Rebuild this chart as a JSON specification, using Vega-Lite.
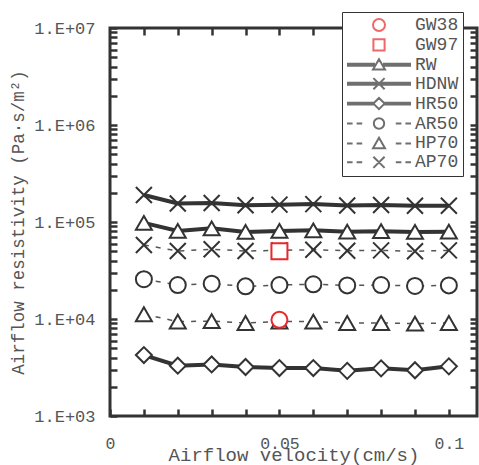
{
  "$schema": "https://vega.github.io/schema/vega-lite/v6.json",
  "autosize": "none",
  "width": 367,
  "height": 388,
  "padding": {"left": 110, "top": 28, "right": 2, "bottom": 49},
  "background": "white",
  "config": {
    "view": {"stroke": "#333333", "strokeWidth": 3},
    "font": "Liberation Mono"
  },
  "data": {
    "values": [
      {"series": "RW", "x": 0.01, "y": 98000}, {"series": "RW", "x": 0.02, "y": 81000}, {"series": "RW", "x": 0.03, "y": 86000}, {"series": "RW", "x": 0.04, "y": 79000}, {"series": "RW", "x": 0.05, "y": 81000}, {"series": "RW", "x": 0.06, "y": 82000}, {"series": "RW", "x": 0.07, "y": 79500}, {"series": "RW", "x": 0.08, "y": 80500}, {"series": "RW", "x": 0.09, "y": 79000}, {"series": "RW", "x": 0.1, "y": 79500},
      {"series": "HDNW", "x": 0.01, "y": 190000}, {"series": "HDNW", "x": 0.02, "y": 155000}, {"series": "HDNW", "x": 0.03, "y": 157000}, {"series": "HDNW", "x": 0.04, "y": 149000}, {"series": "HDNW", "x": 0.05, "y": 151000}, {"series": "HDNW", "x": 0.06, "y": 153000}, {"series": "HDNW", "x": 0.07, "y": 148000}, {"series": "HDNW", "x": 0.08, "y": 150000}, {"series": "HDNW", "x": 0.09, "y": 147000}, {"series": "HDNW", "x": 0.1, "y": 147000},
      {"series": "HR50", "x": 0.01, "y": 4250}, {"series": "HR50", "x": 0.02, "y": 3300}, {"series": "HR50", "x": 0.03, "y": 3400}, {"series": "HR50", "x": 0.04, "y": 3200}, {"series": "HR50", "x": 0.05, "y": 3120}, {"series": "HR50", "x": 0.06, "y": 3120}, {"series": "HR50", "x": 0.07, "y": 2920}, {"series": "HR50", "x": 0.08, "y": 3100}, {"series": "HR50", "x": 0.09, "y": 2960}, {"series": "HR50", "x": 0.1, "y": 3250},
      {"series": "AR50", "x": 0.01, "y": 25700}, {"series": "AR50", "x": 0.02, "y": 22400}, {"series": "AR50", "x": 0.03, "y": 23100}, {"series": "AR50", "x": 0.04, "y": 21700}, {"series": "AR50", "x": 0.05, "y": 22400}, {"series": "AR50", "x": 0.06, "y": 22800}, {"series": "AR50", "x": 0.07, "y": 22200}, {"series": "AR50", "x": 0.08, "y": 22400}, {"series": "AR50", "x": 0.09, "y": 21900}, {"series": "AR50", "x": 0.1, "y": 22200},
      {"series": "HP70", "x": 0.01, "y": 11200}, {"series": "HP70", "x": 0.02, "y": 9400}, {"series": "HP70", "x": 0.03, "y": 9500}, {"series": "HP70", "x": 0.04, "y": 9100}, {"series": "HP70", "x": 0.05, "y": 9400}, {"series": "HP70", "x": 0.06, "y": 9400}, {"series": "HP70", "x": 0.07, "y": 9100}, {"series": "HP70", "x": 0.08, "y": 9100}, {"series": "HP70", "x": 0.09, "y": 8950}, {"series": "HP70", "x": 0.1, "y": 9100},
      {"series": "AP70", "x": 0.01, "y": 58000}, {"series": "AP70", "x": 0.02, "y": 50200}, {"series": "AP70", "x": 0.03, "y": 52300}, {"series": "AP70", "x": 0.04, "y": 50200}, {"series": "AP70", "x": 0.05, "y": 51000}, {"series": "AP70", "x": 0.06, "y": 51800}, {"series": "AP70", "x": 0.07, "y": 50600}, {"series": "AP70", "x": 0.08, "y": 51000}, {"series": "AP70", "x": 0.09, "y": 49900}, {"series": "AP70", "x": 0.1, "y": 51000},
      {"series": "GW38", "x": 0.05, "y": 9800},
      {"series": "GW97", "x": 0.05, "y": 50000}
    ]
  },
  "resolve": {
    "scale": {"shape": "independent", "stroke": "independent", "size": "independent"},
    "axis": {"x": "independent", "y": "independent"}
  },
  "layer": [
    {
      "transform": [{"filter": "indexof(['RW','HDNW','HR50'], datum.series) >= 0"}],
      "mark": {"type": "line", "color": "#333333", "strokeWidth": 4},
      "encoding": {
        "x": {"field": "x", "type": "quantitative",
          "scale": {"domain": [0, 0.1083], "nice": false, "zero": false},
          "axis": {
            "values": [0, 0.01, 0.02, 0.03, 0.04, 0.05, 0.06, 0.07, 0.08, 0.09, 0.1],
            "format": "~g",
            "labelExpr": "(datum.value == 0 || datum.value == 0.05 || datum.value == 0.1) ? datum.label : ''",
            "labelOverlap": false, "labelFlush": false,
            "domain": false, "grid": false, "zindex": 2,
            "ticks": true, "tickSize": -7, "tickWidth": 2.5, "tickColor": "#333333",
            "labelFont": "Liberation Mono", "labelFontSize": 16.5, "labelColor": "#555555", "labelPadding": 26,
            "title": "Airflow velocity(cm/s)", "titleFont": "Liberation Mono", "titleFontSize": 19,
            "titleFontWeight": "normal", "titleColor": "#555555", "titlePadding": -6
          }
        },
        "y": {"field": "y", "type": "quantitative",
          "scale": {"type": "log", "domain": [1000, 10000000], "nice": false},
          "axis": {
            "values": [1000, 2000, 3000, 4000, 5000, 6000, 7000, 8000, 9000, 10000, 20000, 30000, 40000, 50000, 60000, 70000, 80000, 90000, 100000, 200000, 300000, 400000, 500000, 600000, 700000, 800000, 900000, 1000000, 2000000, 3000000, 4000000, 5000000, 6000000, 7000000, 8000000, 9000000, 10000000],
            "labelExpr": "indexof([1000, 10000, 100000, 1000000, 10000000], datum.value) >= 0 ? '1.E+0' + round(log(datum.value) / LN10) : ''",
            "labelOverlap": false, "labelFlush": false,
            "domain": false, "grid": false, "zindex": 2,
            "ticks": true, "tickSize": -7, "tickWidth": 2.5, "tickColor": "#333333",
            "labelFont": "Liberation Mono", "labelFontSize": 17, "labelColor": "#555555", "labelPadding": 22,
            "title": "Airflow resistivity (Pa·s/m²)", "titleFont": "Liberation Mono", "titleFontSize": 17.5,
            "titleFontWeight": "normal", "titleColor": "#555555", "titlePadding": 6
          }
        },
        "detail": {"field": "series"}
      }
    },
    {
      "transform": [{"filter": "indexof(['AR50','HP70','AP70'], datum.series) >= 0"}],
      "mark": {"type": "line", "color": "#555555", "strokeWidth": 1.5, "strokeDash": [5, 7]},
      "encoding": {
        "x": {"field": "x", "type": "quantitative", "axis": null},
        "y": {"field": "y", "type": "quantitative", "axis": null},
        "detail": {"field": "series"}
      }
    },
    {
      "mark": {"type": "point", "filled": true, "fill": "white", "strokeWidth": 2, "opacity": 1},
      "encoding": {
        "x": {"field": "x", "type": "quantitative", "axis": null},
        "y": {"field": "y", "type": "quantitative", "axis": null},
        "shape": {"field": "series", "type": "nominal", "legend": null,
          "scale": {
            "domain": ["GW38", "GW97", "RW", "HDNW", "HR50", "AR50", "HP70", "AP70"],
            "range": ["circle", "square", "triangle-up", "M-1,-1L1,1M-1,1L1,-1", "diamond", "circle", "triangle-up", "M-1,-1L1,1M-1,1L1,-1"]
          }
        },
        "stroke": {"field": "series", "type": "nominal", "legend": null,
          "scale": {
            "domain": ["GW38", "GW97", "RW", "HDNW", "HR50", "AR50", "HP70", "AP70"],
            "range": ["#e8282c", "#e8282c", "#333333", "#333333", "#333333", "#333333", "#333333", "#333333"]
          }
        },
        "size": {"field": "series", "type": "ordinal", "legend": null,
          "scale": {
            "domain": ["GW38", "GW97", "RW", "HDNW", "HR50", "AR50", "HP70", "AP70"],
            "range": [256, 256, 130, 144, 110, 121, 130, 144]
          }
        }
      }
    },
    {
      "transform": [{"filter": "datum.x < 0"}],
      "mark": {"type": "point", "filled": true, "fill": "white", "strokeWidth": 2},
      "encoding": {
        "x": {"field": "x", "type": "quantitative",
          "axis": {
            "orient": "top",
            "values": [0.01, 0.02, 0.03, 0.04, 0.05, 0.06, 0.07, 0.08, 0.09, 0.1],
            "labels": false, "domain": false, "grid": false, "title": null, "zindex": 2,
            "ticks": true, "tickSize": -7, "tickWidth": 2.5, "tickColor": "#333333"
          }
        },
        "y": {"field": "y", "type": "quantitative",
          "axis": {
            "orient": "right",
            "values": [2000, 3000, 4000, 5000, 6000, 7000, 8000, 9000, 10000, 20000, 30000, 40000, 50000, 60000, 70000, 80000, 90000, 100000, 200000, 300000, 400000, 500000, 600000, 700000, 800000, 900000, 1000000, 2000000, 3000000, 4000000, 5000000, 6000000, 7000000, 8000000, 9000000],
            "labels": false, "domain": false, "grid": false, "title": null, "zindex": 2,
            "ticks": true, "tickSize": -7, "tickWidth": 2.5, "tickColor": "#333333"
          }
        },
        "shape": {"field": "series", "type": "nominal",
          "scale": {
            "domain": ["GW38", "GW97", "RW", "HDNW", "HR50", "AR50", "HP70", "AP70"],
            "range": [
              "M-0.75,0A0.75,0.75 0 1,0 0.75,0A0.75,0.75 0 1,0 -0.75,0Z",
              "M-0.7,-0.7L0.7,-0.7L0.7,0.7L-0.7,0.7Z",
              "M-4,-0.12L-0.5,-0.12M-4,0L-0.5,0M-4,0.12L-0.5,0.12M0.5,-0.12L4,-0.12M0.5,0L4,0M0.5,0.12L4,0.12M0,-0.7L0.75,0.6L-0.75,0.6Z",
              "M-4,-0.12L4,-0.12M-4,0L4,0M-4,0.12L4,0.12M-0.7,-0.7L0.7,0.7M-0.7,0.7L0.7,-0.7",
              "M-4,-0.12L-0.62,-0.12M-4,0L-0.7,0M-4,0.12L-0.62,0.12M0.62,-0.12L4,-0.12M0.7,0L4,0M0.62,0.12L4,0.12M0,-0.7L0.7,0L0,0.7L-0.7,0Z",
              "M-4,0L-3.3,0M-2.8,0L-2.1,0M2.1,0L2.8,0M3.3,0L4,0M-0.65,0A0.65,0.65 0 1,0 0.65,0A0.65,0.65 0 1,0 -0.65,0Z",
              "M-4,0L-3.3,0M-2.8,0L-2.1,0M2.1,0L2.8,0M3.3,0L4,0M0,-0.7L0.75,0.6L-0.75,0.6Z",
              "M-4,0L-3.3,0M-2.8,0L-2.1,0M2.1,0L2.8,0M3.3,0L4,0M-0.7,-0.7L0.7,0.7M-0.7,0.7L0.7,-0.7"
            ]
          },
          "legend": {
            "orient": "none", "legendX": 232, "legendY": -16,
            "title": null, "zindex": 3,
            "strokeColor": "#333333", "fillColor": "white", "padding": 4,
            "symbolSize": 256, "symbolStrokeWidth": 2, "symbolFillColor": "white",
            "symbolOffset": 24, "labelOffset": 27, "rowPadding": -0.1,
            "labelFont": "Liberation Mono", "labelFontSize": 18, "labelColor": "#555555",
            "encode": {"symbols": {"update": {"fill": {"value": "white"}, "opacity": {"value": 1}}}}
          }
        },
        "stroke": {"field": "series", "type": "nominal",
          "scale": {
            "domain": ["GW38", "GW97", "RW", "HDNW", "HR50", "AR50", "HP70", "AP70"],
            "range": ["#e8282c", "#e8282c", "#333333", "#333333", "#333333", "#333333", "#333333", "#333333"]
          },
          "legend": {
            "orient": "none", "legendX": 232, "legendY": -16,
            "title": null, "zindex": 3,
            "strokeColor": "#333333", "fillColor": "white", "padding": 4,
            "symbolSize": 256, "symbolStrokeWidth": 2, "symbolFillColor": "white",
            "symbolOffset": 24, "labelOffset": 27, "rowPadding": -0.1,
            "labelFont": "Liberation Mono", "labelFontSize": 18, "labelColor": "#555555",
            "encode": {"symbols": {"update": {"fill": {"value": "white"}, "opacity": {"value": 1}}}}
          }
        }
      }
    }
  ]
}
